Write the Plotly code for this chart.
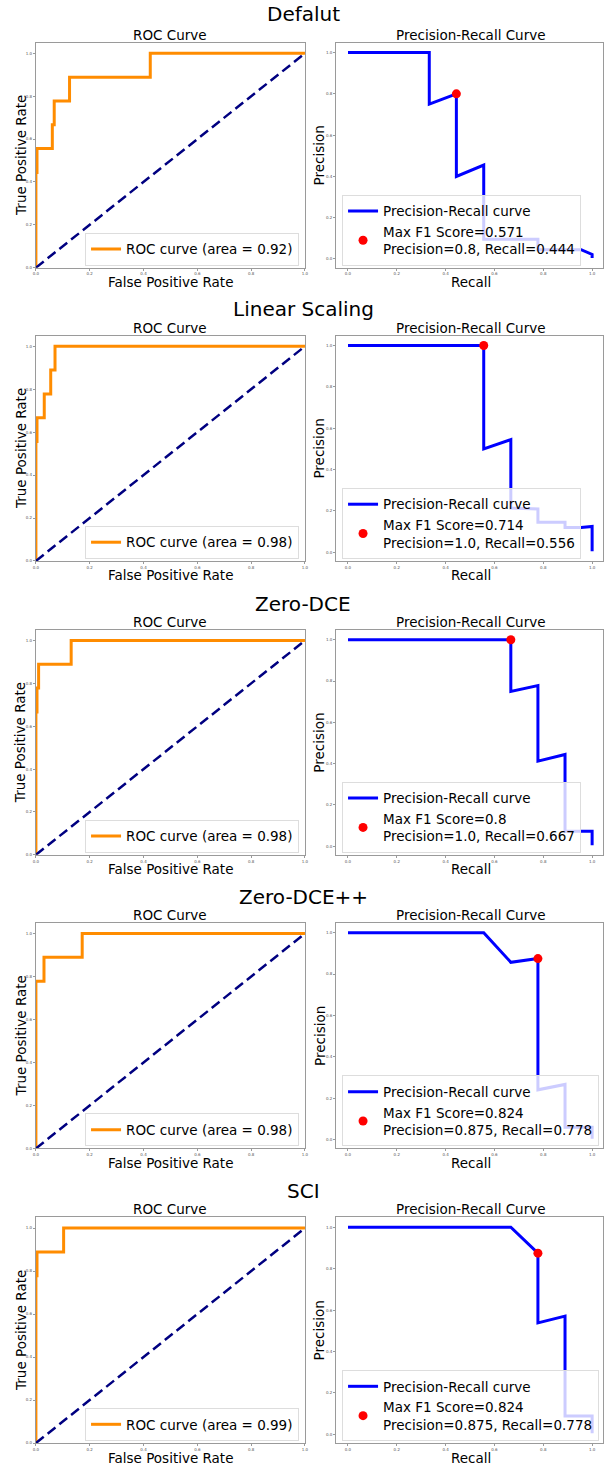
import plotly.graph_objects as go
from plotly.subplots import make_subplots

# ---------------- data ----------------
methods = ["Defalut", "Linear Scaling", "Zero-DCE", "Zero-DCE++", "SCI"]
roc_auc = [0.92, 0.98, 0.98, 0.98, 0.99]

roc_fpr_default = [0, 0.0, 0.004, 0.004, 0.061, 0.061, 0.068, 0.068, 0.125, 0.125, 0.425, 0.425, 1.0]
roc_tpr_default = [0, 0.444, 0.444, 0.556, 0.556, 0.667, 0.667, 0.778, 0.778, 0.889, 0.889, 1.0, 1.0]
roc_fpr_linear = [0, 0.0, 0.004, 0.004, 0.031, 0.031, 0.055, 0.055, 0.071, 0.071, 1.0]
roc_tpr_linear = [0, 0.556, 0.556, 0.667, 0.667, 0.778, 0.778, 0.889, 0.889, 1.0, 1.0]
roc_fpr_zerodce = [0, 0.0, 0.004, 0.004, 0.01, 0.01, 0.131, 0.131, 1.0]
roc_tpr_zerodce = [0, 0.667, 0.667, 0.778, 0.778, 0.889, 0.889, 1.0, 1.0]
roc_fpr_zerodcepp = [0, 0.0, 0.03, 0.03, 0.172, 0.172, 1.0]
roc_tpr_zerodcepp = [0, 0.778, 0.778, 0.889, 0.889, 1.0, 1.0]
roc_fpr_sci = [0, 0.0, 0.004, 0.004, 0.103, 0.103, 1.0]
roc_tpr_sci = [0, 0.778, 0.778, 0.889, 0.889, 1.0, 1.0]

pr_recall_default = [0, 0.333, 0.333, 0.444, 0.444, 0.556, 0.556, 0.778, 0.778, 0.955, 1.0, 1.0]
pr_precision_default = [1, 1, 0.75, 0.8, 0.4, 0.455, 0.096, 0.096, 0.045, 0.045, 0.022, 0.005]
pr_recall_linear = [0, 0.556, 0.556, 0.667, 0.667, 0.778, 0.778, 0.889, 0.889, 0.955, 1.0, 1.0]
pr_precision_linear = [1, 1, 0.5, 0.545, 0.214, 0.209, 0.145, 0.145, 0.12, 0.12, 0.125, 0.005]
pr_recall_zerodce = [0, 0.667, 0.667, 0.778, 0.778, 0.889, 0.889, 1.0, 1.0]
pr_precision_zerodce = [1, 1, 0.75, 0.778, 0.412, 0.444, 0.072, 0.072, 0.005]
pr_recall_zerodcepp = [0, 0.556, 0.667, 0.778, 0.778, 0.889, 0.889, 1.0, 1.0]
pr_precision_zerodcepp = [1, 1, 0.857, 0.875, 0.241, 0.267, 0.06, 0.06, 0.005]
pr_recall_sci = [0, 0.667, 0.778, 0.778, 0.889, 0.889, 1.0, 1.0]
pr_precision_sci = [1, 1, 0.875, 0.538, 0.571, 0.088, 0.088, 0.005]

max_f1 = [0.571, 0.714, 0.8, 0.824, 0.824]
best_precision = [0.8, 1.0, 1.0, 0.875, 0.875]
best_recall = [0.444, 0.556, 0.667, 0.778, 0.778]

tick_vals = [0.0, 0.2, 0.4, 0.6, 0.8, 1.0]

roc_fprs = [roc_fpr_default, roc_fpr_linear, roc_fpr_zerodce, roc_fpr_zerodcepp, roc_fpr_sci]
roc_tprs = [roc_tpr_default, roc_tpr_linear, roc_tpr_zerodce, roc_tpr_zerodcepp, roc_tpr_sci]
pr_recalls = [pr_recall_default, pr_recall_linear, pr_recall_zerodce, pr_recall_zerodcepp, pr_recall_sci]
pr_precisions = [pr_precision_default, pr_precision_linear, pr_precision_zerodce, pr_precision_zerodcepp, pr_precision_sci]

# ---------------- layout helpers ----------------
W, H = 607, 1468
FONT = "DejaVu Sans"


def fx(px):
    return px / W


def fy(py):
    return 1 - py / H


axes_tops = [42.7, 336, 630.7, 924, 1219]
axes_bottoms = [268, 561.7, 856, 1150, 1445]
title_y = [14, 309, 605, 898, 1193]
roc_left, roc_right = 33.3, 305.5
pr_left, pr_right = 337, 607

fig = make_subplots(rows=5, cols=2)

annotations = []
legends = {}
for i in range(5):
    r = i + 1
    top, bot = axes_tops[i], axes_bottoms[i]
    ln_roc = 2 * i + 1
    ln_pr = 2 * i + 2
    leg_roc = "legend" if ln_roc == 1 else f"legend{ln_roc}"
    leg_pr = f"legend{ln_pr}"

    fig.add_trace(go.Scatter(
        x=roc_fprs[i], y=roc_tprs[i], mode="lines",
        line=dict(color="darkorange", width=3),
        name=f"ROC curve (area = {roc_auc[i]:.2f})", legend=leg_roc,
    ), row=r, col=1)
    fig.add_trace(go.Scatter(
        x=[0, 1], y=[0, 1], mode="lines",
        line=dict(color="navy", width=2.5, dash="10px,5px"),
        showlegend=False,
    ), row=r, col=1)

    fig.add_trace(go.Scatter(
        x=pr_recalls[i], y=pr_precisions[i], mode="lines",
        line=dict(color="blue", width=3),
        name="Precision-Recall curve", legend=leg_pr,
    ), row=r, col=2)
    fig.add_trace(go.Scatter(
        x=[best_recall[i]], y=[best_precision[i]], mode="markers",
        marker=dict(color="red", size=9),
        name=f"Max F1 Score={max_f1[i]}<br>Precision={best_precision[i]}, Recall={best_recall[i]}",
        legend=leg_pr,
    ), row=r, col=2)

    dom_y = [fy(bot), fy(top)]
    axis_common = dict(
        showline=True, mirror=True, linecolor="#9a9a9a", linewidth=1,
        showgrid=False, zeroline=False, ticks="outside", ticklen=2,
        tickcolor="#9a9a9a", tickfont=dict(family=FONT, size=4, color="#555"),
        tickvals=tick_vals, tickformat=".1f",
    )
    fig.update_xaxes(domain=[fx(roc_left), fx(roc_right)], range=[0, 1], row=r, col=1, **axis_common)
    fig.update_yaxes(domain=dom_y, range=[0, 1.05], row=r, col=1, **axis_common)
    fig.update_xaxes(domain=[fx(pr_left), fx(pr_right)],
                     range=[-(349 - pr_left) / 247, (pr_right - 349) / 247], row=r, col=2, **axis_common)
    fig.update_yaxes(domain=dom_y, range=[-0.042, 1.048], row=r, col=2, **axis_common)

    legend_style = dict(
        bgcolor="rgba(255,255,255,0.8)", bordercolor="#dddddd", borderwidth=1,
        font=dict(family=FONT, size=13.5, color="black"),
        itemwidth=30, tracegroupgap=0,
    )
    legends[leg_roc] = dict(x=fx(roc_right - 6), xanchor="right",
                            y=fy(bot - 2), yanchor="bottom", **legend_style)
    legends[leg_pr] = dict(x=fx(pr_left + 6), xanchor="left",
                           y=fy(bot - 2), yanchor="bottom", **legend_style)

    # main title
    annotations.append(dict(text=methods[i], x=0.5, y=fy(title_y[i]), xref="paper", yref="paper",
                            xanchor="center", yanchor="middle", showarrow=False,
                            font=dict(family=FONT, size=20, color="black")))
    # subplot titles
    for txt, l, rr in [("ROC Curve", roc_left, roc_right), ("Precision-Recall Curve", pr_left, 609)]:
        annotations.append(dict(text=txt, x=fx((l + rr) / 2), y=fy(top - 8), xref="paper", yref="paper",
                                xanchor="center", yanchor="middle", showarrow=False,
                                font=dict(family=FONT, size=13.5, color="black")))
    # x labels
    for txt, l, rr in [("False Positive Rate", roc_left, roc_right), ("Recall", pr_left, 609)]:
        annotations.append(dict(text=txt, x=fx((l + rr) / 2), y=fy(bot + 14.5), xref="paper", yref="paper",
                                xanchor="center", yanchor="middle", showarrow=False,
                                font=dict(family=FONT, size=13.5, color="black")))
    # y labels
    for txt, xc in [("True Positive Rate", 18), ("Precision", 320)]:
        annotations.append(dict(text=txt, x=fx(xc), y=fy((top + bot) / 2), xref="paper", yref="paper",
                                xanchor="center", yanchor="middle", showarrow=False, textangle=-90,
                                font=dict(family=FONT, size=13.5, color="black")))

fig.update_layout(
    width=W, height=H,
    margin=dict(l=0, r=0, t=0, b=0),
    paper_bgcolor="white", plot_bgcolor="white",
    annotations=annotations,
    font=dict(family=FONT),
    **legends,
)

fig.write_html("out.html", config={"displayModeBar": False},
               post_script="document.body.style.margin='0';document.body.style.overflow='hidden';")
